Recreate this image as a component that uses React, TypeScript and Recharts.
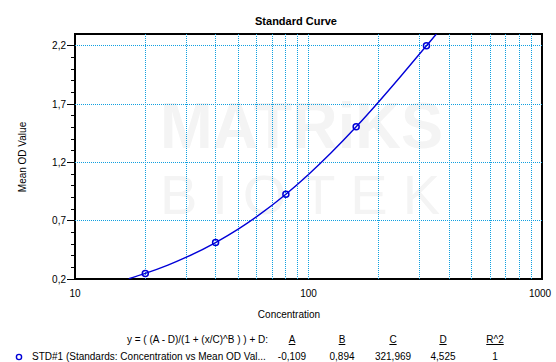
import React from "react";
import {
  ComposedChart,
  Line,
  Scatter,
  XAxis,
  YAxis,
  ReferenceLine,
  ReferenceArea,
} from "recharts";

const FONT = '"Liberation Sans", Arial, sans-serif';
const BLUE = "#0000d8";
const GRID = "#10a0e0";

// standards (concentration vs mean OD)
const stdConc = [20, 40, 80, 160, 320];
const stdOD = [0.248, 0.513, 0.927, 1.506, 2.202];

// fitted 4PL curve
const curveConc = [17, 20, 25, 30, 40, 50, 60, 80, 100, 125, 160, 200, 250, 320, 350, 353];
const curveOD = [0.203, 0.248, 0.319, 0.387, 0.513, 0.628, 0.735, 0.927, 1.097, 1.283, 1.506, 1.722, 1.947, 2.202, 2.294, 2.303];

const xTicks = [10, 100, 1000];
const xGrid = [20, 30, 40, 50, 60, 70, 80, 90, 100, 200, 300, 400, 500, 600, 700, 800, 900];
const yTicks = [0.2, 0.3, 0.4, 0.5, 0.6, 0.7, 0.8, 0.9, 1.0, 1.1, 1.2, 1.3, 1.4, 1.5, 1.6, 1.7, 1.8, 1.9, 2.0, 2.1, 2.2];
const yMajor = [0.2, 0.7, 1.2, 1.7, 2.2];
const yGrid = [0.7, 1.2, 1.7, 2.2];

const fitHeaders = ["A", "B", "C", "D", "R^2"];
const fitValues = ["-0,109", "0,894", "321,969", "4,525", "1"];
const fitCols = [292, 342, 393, 443, 495];

const fmt = (v: number) => v.toFixed(1).replace(".", ",");

const stdData = stdConc.map((x, i) => ({ x, y: stdOD[i] }));
const curveData = curveConc.map((x, i) => ({ x, y: curveOD[i] }));

function YTick(props: any) {
  const { x, y, payload } = props;
  const major = yMajor.includes(payload.value);
  return (
    <g>
      <line x1={x - (major ? 8 : 4)} x2={x} y1={y} y2={y} stroke="#000" shapeRendering="crispEdges" />
      {major && (
        <text x={x - 9} y={y} dy={3.5} textAnchor="end" fontSize={10} fontFamily={FONT} fill="#000">
          {fmt(payload.value)}
        </text>
      )}
    </g>
  );
}

function XTick(props: any) {
  const { x, y, payload } = props;
  return (
    <text x={x} y={y} dy={18} textAnchor="middle" fontSize={10} fontFamily={FONT} fill="#000">
      {payload.value}
    </text>
  );
}

// dotted grid line snapped to the pixel grid so the dots stay crisp
function DotLine(props: any) {
  const { x1, y1, x2, y2 } = props;
  const vertical = Math.abs(x1 - x2) < 0.01;
  const sx = vertical ? Math.floor(x1) + 0.5 : Math.round(x1);
  const ex = vertical ? Math.floor(x2) + 0.5 : Math.round(x2);
  const sy = vertical ? Math.round(Math.min(y1, y2)) : Math.floor(y1) + 0.5;
  const ey = vertical ? Math.round(Math.max(y1, y2)) : Math.floor(y2) + 0.5;
  return <line x1={sx} y1={sy} x2={ex} y2={ey} stroke={GRID} strokeWidth={1} strokeDasharray="1 1" />;
}

function StdMarker(props: any) {
  const { cx, cy } = props;
  return <circle cx={cx} cy={cy} r={3} fill="none" stroke={BLUE} strokeWidth={1.5} />;
}

export default function App() {
  const abs = (left: number, top: number, extra: React.CSSProperties = {}): React.CSSProperties => ({
    position: "absolute",
    left,
    top,
    fontFamily: FONT,
    fontSize: 10,
    lineHeight: "12px",
    color: "#000",
    whiteSpace: "nowrap",
    ...extra,
  });

  return (
    <div style={{ position: "absolute", left: 0, top: 0, width: 556, height: 362, background: "#fff", overflow: "hidden" }}>
      {/* faint watermark */}
      <svg width={556} height={362} style={{ position: "absolute", left: 0, top: 0 }}>
        <text x={160} y={148} fontSize={64} fontWeight="bold" fontFamily={FONT} fill="#f4f4f4" textLength={283} lengthAdjust="spacingAndGlyphs">
          MATRiKS
        </text>
        <text x={160} y={214} fontSize={56} fontFamily={FONT} fill="#f4f4f4" textLength={280} lengthAdjust="spacing">
          BIOTEK
        </text>
      </svg>

      <div style={{ position: "absolute", left: 0, top: 0 }}>
        <ComposedChart width={556} height={362} margin={{ top: 34, right: 14, bottom: 63, left: 0 }}>
          <XAxis
            dataKey="x"
            type="number"
            scale="log"
            domain={[10, 1000]}
            ticks={xTicks}
            allowDataOverflow
            axisLine={false}
            tickLine={false}
            tickSize={0}
            tickMargin={0}
            height={20}
            tick={<XTick />}
          />
          <YAxis
            dataKey="y"
            type="number"
            domain={[0.2, 2.303]}
            ticks={yTicks}
            allowDataOverflow
            axisLine={false}
            tickLine={false}
            tickSize={0}
            tickMargin={0}
            width={75}
            interval={0}
            tick={<YTick />}
          />
          {xGrid.map((v) => (
            <ReferenceLine key={"vx" + v} x={v} shape={<DotLine />} />
          ))}
          {yGrid.map((v) => (
            <ReferenceLine key={"hy" + v} y={v} shape={<DotLine />} />
          ))}
          <Line
            data={curveData}
            dataKey="y"
            type="monotone"
            stroke={BLUE}
            strokeWidth={1.4}
            dot={false}
            activeDot={false}
            isAnimationActive={false}
          />
          <Scatter data={stdData} dataKey="y" shape={<StdMarker />} isAnimationActive={false} />
          <ReferenceArea
            x1={10}
            x2={1000}
            y1={0.2}
            y2={2.303}
            fill="none"
            fillOpacity={0}
            stroke="#000"
            strokeWidth={2}
            shapeRendering="crispEdges"
          />
        </ComposedChart>
      </div>

      <div style={abs(0, 15, { width: 592, textAlign: "center", fontWeight: "bold", fontSize: 11, lineHeight: "13px" })}>
        Standard Curve
      </div>
      <div style={abs(-27, 151, { width: 100, textAlign: "center", transform: "rotate(-90deg)" })}>Mean OD Value</div>
      <div style={abs(0, 309, { width: 578, textAlign: "center" })}>Concentration</div>

      <div style={abs(0, 334, { width: 268, textAlign: "right" })}>y = ( (A - D)/(1 + (x/C)^B ) ) + D:</div>
      {fitHeaders.map((h, i) => (
        <div key={h} style={abs(fitCols[i] - 30, 334, { width: 60, textAlign: "center" })}>
          <span style={{ textDecoration: "underline" }}>{h}</span>
        </div>
      ))}
      <svg width={10} height={10} style={{ position: "absolute", left: 14, top: 352 }}>
        <circle cx={5} cy={5} r={2.6} fill="none" stroke={BLUE} strokeWidth={1.4} />
      </svg>
      <div style={abs(32, 351)}>STD#1 (Standards: Concentration vs Mean OD Val...</div>
      {fitValues.map((v, i) => (
        <div key={i} style={abs(fitCols[i] - 30, 351, { width: 60, textAlign: "center" })}>
          {v}
        </div>
      ))}
    </div>
  );
}
